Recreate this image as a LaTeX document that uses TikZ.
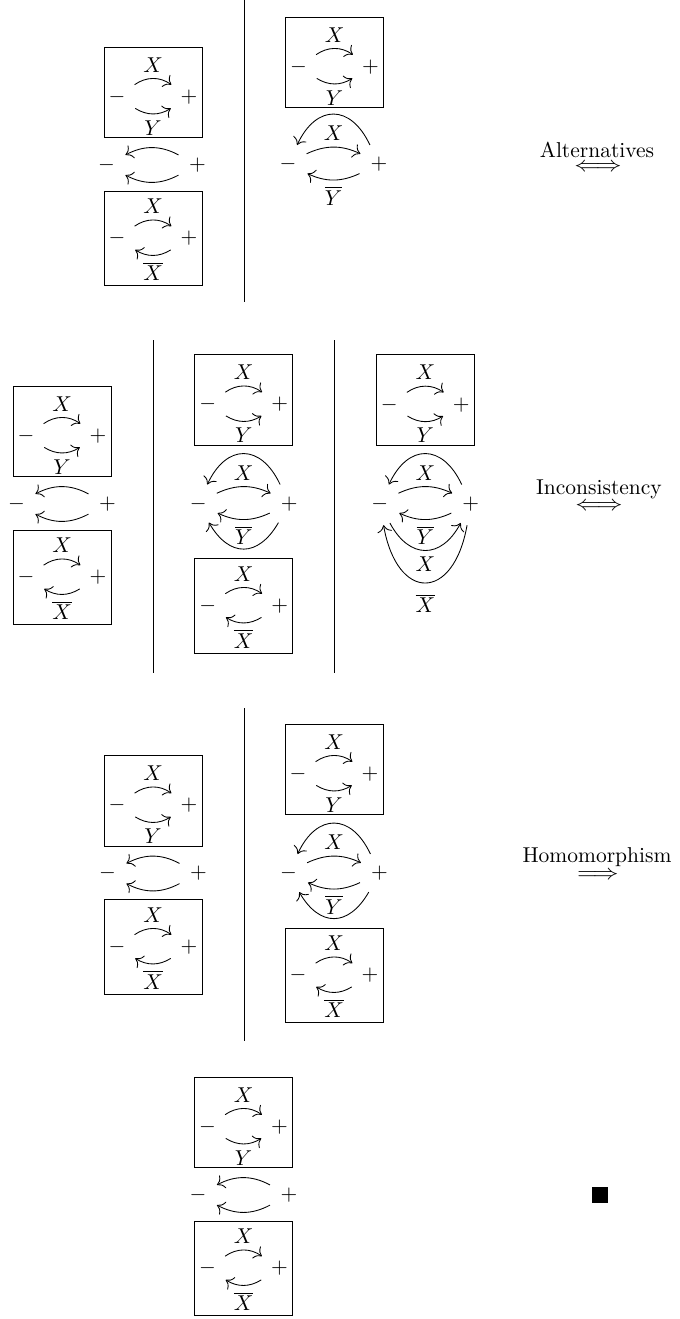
\documentclass[tikz,border=0pt]{standalone}
\usepackage{graphicx}
\usetikzlibrary{arrows.meta}
\tikzset{
  pm/.style={circle, inner sep=0pt, minimum size=19.6pt},
  arr/.style={-{To[scale=1.3]}},
  frame/.style={draw, line width=0.4pt},
  seprule/.style={draw, line width=0.4pt},
  lab/.style={midway, inner sep=2.8pt},
  title/.style={inner sep=0pt},
  boxxy/.pic={
    \node[pm] (-m) at (-36,0) {$-$};
    \node[pm] (-p) at (36,0) {$+$};
    \draw[arr] (-m.35) to[out=35,in=145] node[lab,above]{$X$} (-p.145);
    \draw[arr] (-m.-32) to[out=-32,in=-148] node[lab,below]{$Y$} (-p.-148);
    \draw[frame] (-49,-40.5) rectangle (49,50);
  },
  boxxxbar/.pic={
    \node[pm] (-m) at (-36,0) {$-$};
    \node[pm] (-p) at (36,0) {$+$};
    \draw[arr] (-m.35) to[out=35,in=145] node[lab,above]{$X$} (-p.145);
    \draw[arr] (-p.-148) to[out=-148,in=-32] node[lab,below]{$\overline{X}$} (-m.-32);
    \draw[frame] (-49,-47) rectangle (49,47.3);
  },
  freell/.pic={
    \node[pm] (-m) at (-45.5,0) {$-$};
    \node[pm] (-p) at (45.5,0) {$+$};
    \draw[arr] (-p.152) to[out=152,in=28] (-m.28);
    \draw[arr] (-p.-152) to[out=-152,in=-28] (-m.-28);
  },
  freea/.pic={
    \node[pm] (-m) at (-45.5,0) {$-$};
    \node[pm] (-p) at (45.5,0) {$+$};
    \draw[arr] (-p.115) to[out=115,in=65,looseness=1.6] (-m.65);
    \draw[arr] (-m.30) to[out=25,in=155] node[lab,above]{$X$} (-p.150);
    \draw[arr] (-p.-155) to[out=-155,in=-25] node[lab,below]{$\overline{Y}$} (-m.-25);
  },
  freem/.pic={
    \node[pm] (-m) at (-45.5,0) {$-$};
    \node[pm] (-p) at (45.5,0) {$+$};
    \draw[arr] (-p.115) to[out=115,in=65,looseness=1.6] (-m.65);
    \draw[arr] (-m.30) to[out=25,in=155] node[lab,above]{$X$} (-p.150);
    \draw[arr] (-p.-155) to[out=-155,in=-25] node[lab,below]{$\overline{Y}$} (-m.-25);
    \draw[arr] (-p.-120) to[out=-120,in=-60,looseness=1.5] (-m.-60);
  },
  freei/.pic={
    \node[pm] (-m) at (-45.5,0) {$-$};
    \node[pm] (-p) at (45.5,0) {$+$};
    \draw[arr] (-p.115) to[out=115,in=65,looseness=1.6] (-m.65);
    \draw[arr] (-m.30) to[out=25,in=155] node[lab,above]{$X$} (-p.150);
    \draw[arr] (-p.-155) to[out=-155,in=-25] node[lab,below]{$\overline{Y}$} (-m.-25);
    \draw[arr] (-m.-62) to[out=-62,in=-118,looseness=1.5] node[lab,below]{$X$} (-p.-118);
    \draw[arr] (-p.-100) to[out=-100,in=-80,looseness=2.4] node[lab,below,yshift=-2pt]{$\overline{X}$} (-m.-80);
  },
}
\begin{document}
\begin{tikzpicture}[x=0.4652pt,y=0.4652pt]
\useasboundingbox (0,0) rectangle (679,-1319);
% ---------- Section 1: Alternatives ----------
\pic (aLb) at (153,-97) {boxxy};
\pic (aLd) at (152,-165) {freell};
\pic (aLc) at (153,-238.5) {boxxxbar};
\coordinate (aS1) at (244,0);
\coordinate (aS2) at (244,-302);
\draw[seprule] (aS1) -- (aS2);
\pic (aRb) at (334.5,-67) {boxxy};
\pic (aRd) at (333.5,-164.5) {freea};
\node[title] (alttxt) at (597,-150) {Alternatives};
\node[title] (altarr) at (598,-168) {\scalebox{1.2}[1]{$\Longleftrightarrow$}};
% ---------- Section 2: Inconsistency ----------
\pic (iLb) at (62,-436) {boxxy};
\pic (iLd) at (62,-504) {freell};
\pic (iLc) at (62,-577.5) {boxxxbar};
\coordinate (iS1) at (153,-340);
\coordinate (iS2) at (153,-673);
\draw[seprule] (iS1) -- (iS2);
\pic (iMb) at (243.7,-404.5) {boxxy};
\pic (iMd) at (243.7,-504) {freem};
\pic (iMc) at (243.7,-606) {boxxxbar};
\coordinate (iT1) at (334.5,-340);
\coordinate (iT2) at (334.5,-673);
\draw[seprule] (iT1) -- (iT2);
\pic (iRb) at (425.3,-404.7) {boxxy};
\pic (iRd) at (425.3,-504) {freei};
\node[title] (inctxt) at (599,-489) {Inconsistency};
\node[title] (incarr) at (599,-507) {\scalebox{1.2}[1]{$\Longleftrightarrow$}};
% ---------- Section 3: Homomorphism ----------
\pic (hLb) at (153,-805.5) {boxxy};
\pic (hLd) at (153,-873.5) {freell};
\pic (hLc) at (153,-947) {boxxxbar};
\coordinate (hS1) at (244,-708);
\coordinate (hS2) at (244,-1041);
\draw[seprule] (hS1) -- (hS2);
\pic (hRb) at (334,-774) {boxxy};
\pic (hRd) at (334,-873.5) {freem};
\pic (hRc) at (334,-975.5) {boxxxbar};
\node[title] (homtxt) at (597,-857) {Homomorphism};
\node[title] (homarr) at (598,-876) {\scalebox{1.2}[1]{$\Longrightarrow$}};
% ---------- Section 4 ----------
\pic (fLb) at (243.5,-1127) {boxxy};
\pic (fLd) at (243.5,-1195) {freell};
\pic (fLc) at (243.5,-1268.5) {boxxxbar};
\node[fill=black, minimum size=7.4pt, inner sep=0pt] (qed) at (600,-1195) {};
\end{tikzpicture}
\end{document}
